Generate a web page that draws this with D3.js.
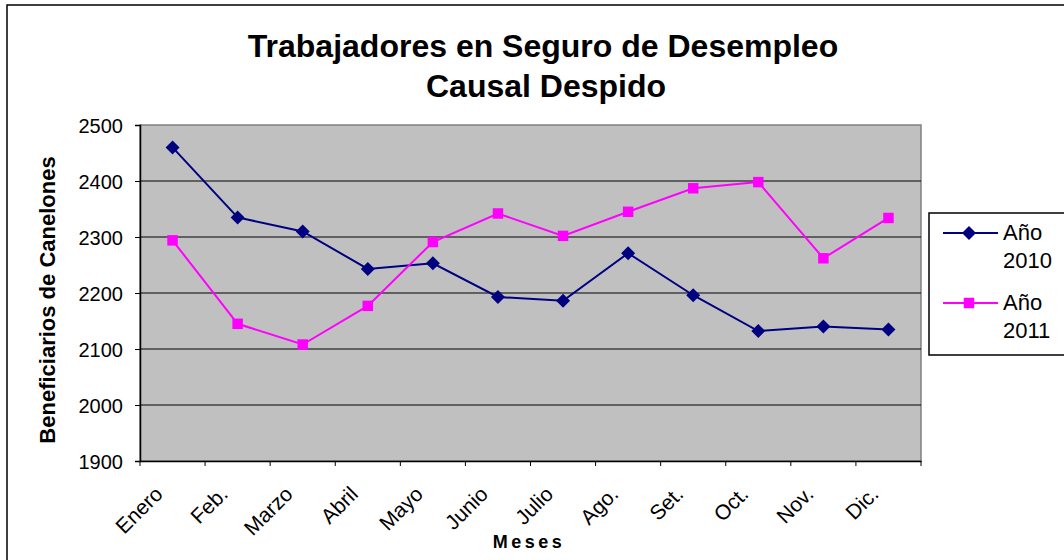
<!DOCTYPE html>
<html>
<head>
<meta charset="utf-8">
<script src="https://cdn.jsdelivr.net/npm/d3@7"></script>
<style>
  body { margin: 0; background: #fff; }
  svg text { font-family: "Liberation Sans", Arial, sans-serif; fill: #000; }
</style>
</head>
<body>
<svg id="chart" width="1064" height="560"></svg>
<script>
// data
var months = ["Enero", "Feb.", "Marzo", "Abril", "Mayo", "Junio", "Julio", "Ago.", "Set.", "Oct.", "Nov.", "Dic."];
var values2010 = [2460, 2335, 2310, 2243, 2253, 2193, 2186, 2271, 2196, 2132, 2140, 2135];
var values2011 = [2294, 2145, 2108, 2177, 2291, 2342, 2302, 2345, 2387, 2398, 2262, 2334];
var yTicks = [1900, 2000, 2100, 2200, 2300, 2400, 2500];
var seriesNames = ["Año 2010", "Año 2011"];

var svg = d3.select('#chart');

// outer chart border (runs off the right and bottom edge)
svg.append("rect")
    .attr("x", 7).attr("y", 5)
    .attr("width", 1080).attr("height", 580)
    .attr("fill", "#fff")
    .attr("stroke", "#000")
    .attr("stroke-width", 1.5);

var plot = {left: 140, top: 125, right: 921, bottom: 461};

var x = d3.scaleBand()
    .domain(months)
    .range([plot.left, plot.right]);

var y = d3.scaleLinear()
    .domain([1900, 2500])
    .range([plot.bottom, plot.top]);

//plot background
svg.append("rect")
    .attr("x", plot.left).attr("y", plot.top)
    .attr("width", plot.right - plot.left)
    .attr("height", plot.bottom - plot.top)
    .attr("fill", "#c0c0c0")
    .attr("stroke", "#808080")
    .attr("stroke-width", 1.5);

//gridlines
svg.selectAll(".grid")
    .data(yTicks.slice(1, -1))
    .enter()
    .append("line")
    .attr("x1", plot.left).attr("x2", plot.right)
    .attr("y1", function(d) { return y(d); })
    .attr("y2", function(d) { return y(d); })
    .attr("stroke", "#000")
    .attr("stroke-width", 1);

// y axis
var yAxis = svg.append("g")
    .attr("transform", "translate(" + plot.left + ",0)")
    .call(d3.axisLeft(y).tickValues(yTicks).tickSize(5).tickPadding(12).tickFormat(d3.format("d")));
yAxis.select(".domain").attr("stroke", "#000").attr("stroke-width", 1.5);
yAxis.selectAll("text").style("font-size", "20px").attr("dy", "0.36em");

// x axis, ticks on band edges
var xAxis = svg.append("g")
    .attr("transform", "translate(0," + plot.bottom + ")")
    .call(d3.axisBottom(x).tickSize(0).tickFormat(""));
xAxis.select(".domain").attr("stroke", "#000").attr("stroke-width", 1.5);

var edges = months.map(function(m) { return x(m); }).concat([plot.right]);
svg.selectAll(".xtick")
    .data(edges)
    .enter()
    .append("line")
    .attr("x1", function(d) { return d; })
    .attr("x2", function(d) { return d; })
    .attr("y1", plot.bottom).attr("y2", plot.bottom + 5)
    .attr("stroke", "#000");

svg.selectAll(".xlabel")
    .data(months)
    .enter()
    .append("text")
    .attr("text-anchor", "end")
    .style("font-size", "21px")
    .attr("transform", function(d) {
        var cx = x(d) + x.bandwidth() / 2 - 19;
        return "translate(" + cx + "," + (plot.bottom + 24) + ") rotate(-45)";
    })
    .attr("dy", "0.7em")
    .text(function(d) { return d; });

//series lines
var colors = ["#000080", "#ff00ff"];
var allSeries = [values2010, values2011];

var line = d3.line()
    .x(function(d, i) { return x(months[i]) + x.bandwidth() / 2; })
    .y(function(d) { return y(d); });

allSeries.forEach(function(vals, s) {
    svg.append("path")
        .datum(vals)
        .attr("d", line)
        .attr("fill", "none")
        .attr("stroke", colors[s])
        .attr("stroke-width", 2);
});

var diamond = d3.symbol().type(d3.symbolDiamond2).size(125);
var square = d3.symbol().type(d3.symbolSquare).size(110);

svg.selectAll(".m2010")
    .data(values2010)
    .enter()
    .append("path")
    .attr("d", diamond)
    .attr("transform", function(d, i) {
        return "translate(" + (x(months[i]) + x.bandwidth() / 2) + "," + y(d) + ")";
    })
    .attr("fill", colors[0]);

svg.selectAll(".m2011")
    .data(values2011)
    .enter()
    .append("path")
    .attr("d", square)
    .attr("transform", function(d, i) {
        return "translate(" + (x(months[i]) + x.bandwidth() / 2) + "," + y(d) + ")";
    })
    .attr("fill", colors[1]);

// titles
var title = svg.append("text")
    .attr("text-anchor", "middle")
    .style("font-size", "32px")
    .style("font-weight", "bold");
title.append("tspan").attr("x", 543).attr("y", 57).text("Trabajadores en Seguro de Desempleo");
title.append("tspan").attr("x", 546).attr("y", 97).text("Causal Despido");

svg.append("text")
    .attr("text-anchor", "middle")
    .attr("transform", "translate(55,300) rotate(-90)")
    .style("font-size", "22px")
    .style("font-weight", "bold")
    .text("Beneficiarios de Canelones");

svg.append("text")
    .attr("x", 529).attr("y", 548)
    .attr("text-anchor", "middle")
    .style("font-size", "18px")
    .style("font-weight", "bold")
    .style("letter-spacing", "3.5px")
    .text("Meses");

// legend
var legend = svg.append("g");
legend.append("rect")
    .attr("x", 929).attr("y", 213)
    .attr("width", 140).attr("height", 142)
    .attr("fill", "#fff")
    .attr("stroke", "#000")
    .attr("stroke-width", 1.5);

var legendY = [233, 303];
seriesNames.forEach(function(name, s) {
    var g = legend.append("g");
    g.append("line")
        .attr("x1", 943).attr("x2", 998)
        .attr("y1", legendY[s]).attr("y2", legendY[s])
        .attr("stroke", colors[s]).attr("stroke-width", 2);
    g.append("path")
        .attr("d", s == 0 ? diamond : square)
        .attr("transform", "translate(969," + legendY[s] + ")")
        .attr("fill", colors[s]);
    var parts = name.split(" ");
    var t = g.append("text").style("font-size", "22px");
    t.append("tspan").attr("x", 1003).attr("y", legendY[s] + 7).text(parts[0]);
    t.append("tspan").attr("x", 1003).attr("y", legendY[s] + 35).text(parts[1]);
});
</script>
</body>
</html>
